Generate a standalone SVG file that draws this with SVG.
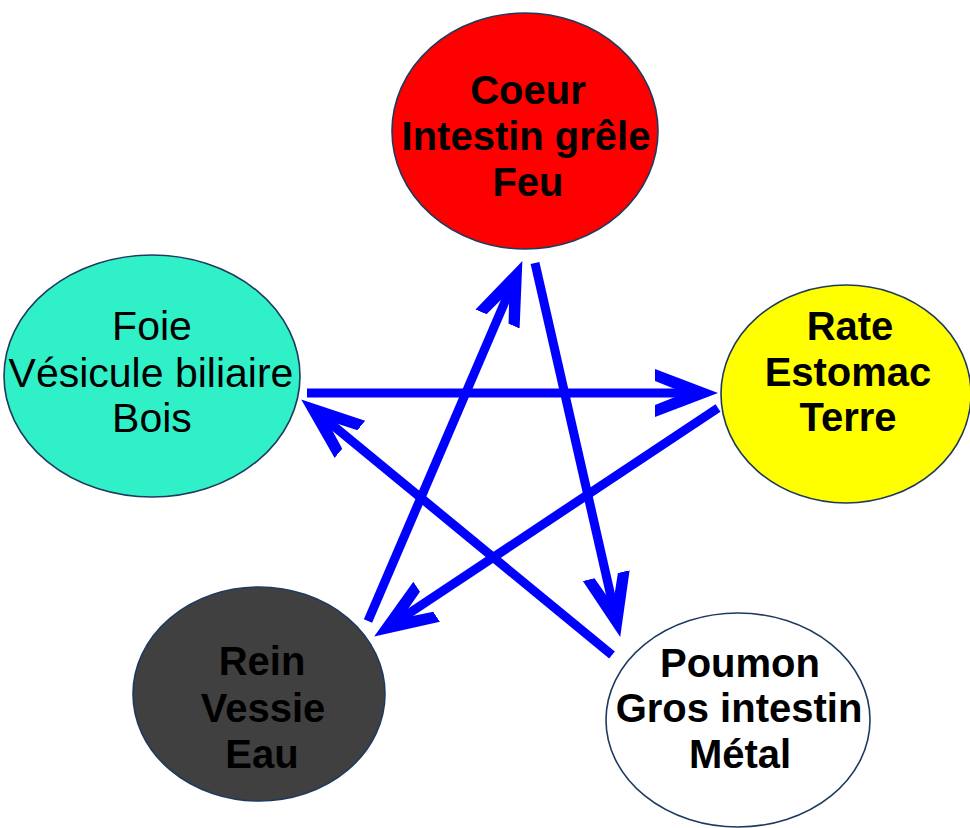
<svg xmlns="http://www.w3.org/2000/svg" width="970" height="828" viewBox="0 0 970 828">
<defs>
<style>
.node{stroke:#1F3A5F;stroke-width:1.6}
.t{font-family:"Liberation Sans",Arial,sans-serif;font-size:40px;fill:#000;text-anchor:middle}
.b{font-weight:bold}
.c{fill:none;stroke:#0000FF;stroke-width:9;marker-end:url(#ah)}
</style>
<marker id="ah" markerUnits="userSpaceOnUse" markerWidth="70" markerHeight="60" viewBox="0 0 70 60" refX="40" refY="30" orient="auto">
<path d="M63,30 L0,6 L0,18 L30,30 L0,42 L0,54 Z" fill="#0000FF"/>
</marker>
</defs>
<rect width="970" height="828" fill="#fff"/>
<g id="connectors">
<line class="c" x1="307" y1="393" x2="695" y2="393"/>
<line class="c" x1="718" y1="408" x2="393.3" y2="623.8"/>
<line class="c" x1="368" y1="621" x2="513.3" y2="282.2"/>
<line class="c" x1="535" y1="263" x2="615.1" y2="614.6"/>
<line class="c" x1="612" y1="655" x2="319" y2="414"/>
</g>
<g id="coeur">
<ellipse class="node" cx="525" cy="131" rx="133" ry="118" fill="#FF0000"/>
<text class="t b" x="528" y="104">Coeur</text>
<text class="t b" x="526" y="150">Intestin grêle</text>
<text class="t b" x="528" y="196">Feu</text>
</g>
<g id="foie">
<ellipse class="node" cx="152" cy="376" rx="148" ry="121" fill="#30F0C8"/>
<text class="t" x="152" y="340" style="font-size:41px">Foie</text>
<text class="t" x="151" y="387" style="font-size:41px">Vésicule biliaire</text>
<text class="t" x="152" y="432" style="font-size:41px">Bois</text>
</g>
<g id="rate">
<ellipse class="node" cx="846" cy="394" rx="125" ry="109" fill="#FFFF00"/>
<text class="t b" x="850" y="340">Rate</text>
<text class="t b" x="848" y="386">Estomac</text>
<text class="t b" x="848" y="431">Terre</text>
</g>
<g id="rein">
<ellipse class="node" cx="259" cy="694" rx="126" ry="107" fill="#404040"/>
<text class="t b" x="262" y="675">Rein</text>
<text class="t b" x="263" y="722">Vessie</text>
<text class="t b" x="262" y="768">Eau</text>
</g>
<g id="poumon">
<ellipse class="node" cx="738" cy="720" rx="132" ry="107" fill="#FFFFFF"/>
<text class="t b" x="740" y="677">Poumon</text>
<text class="t b" x="739" y="722">Gros intestin</text>
<text class="t b" x="740" y="768">Métal</text>
</g>
</svg>
